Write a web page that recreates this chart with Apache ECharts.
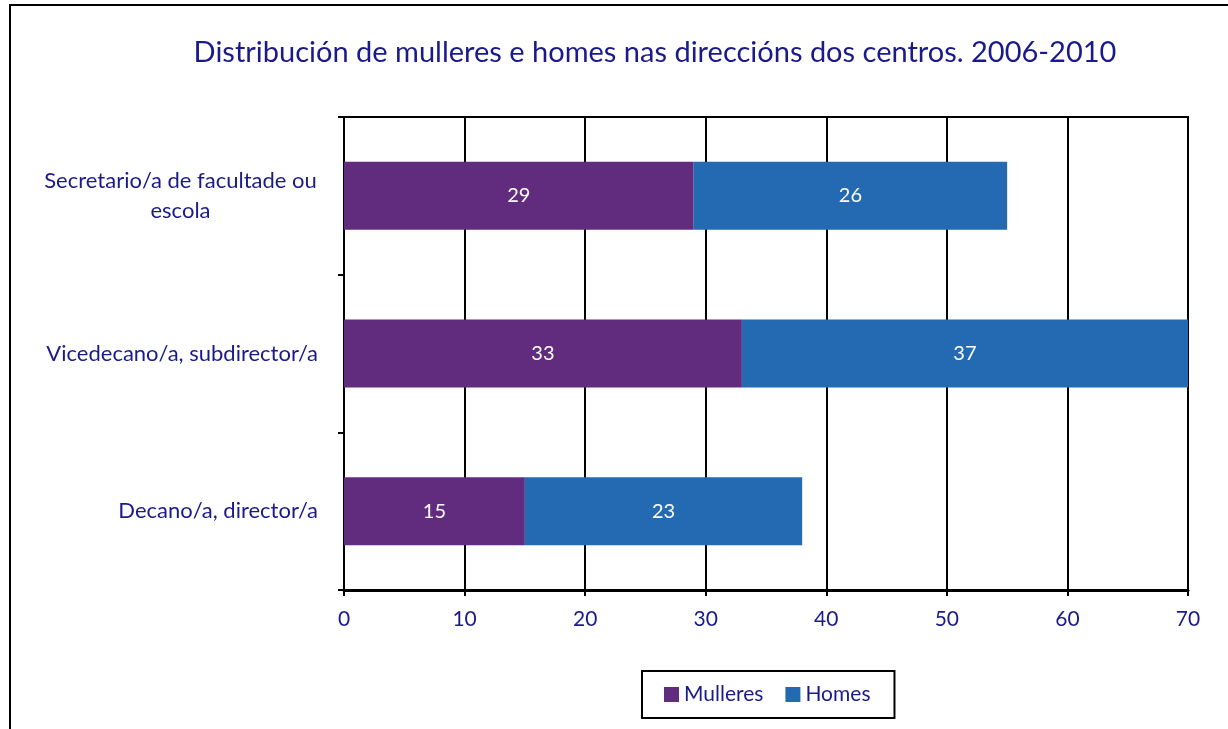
<!DOCTYPE html>
<html>
<head>
<meta charset="utf-8">
<script src="https://cdn.jsdelivr.net/npm/echarts@6/dist/echarts.min.js"></script>
<style>
  html, body { margin: 0; padding: 0; background: #fff; }
  #chart { width: 1228px; height: 729px; }
</style>
</head>
<body>
<div id="chart"></div>
<script>
var categories = ['Decano/a, director/a', 'Vicedecano/a, subdirector/a', 'Secretario/a de facultade ou escola'];
var mulleres = [15, 33, 29];
var homes = [23, 37, 26];
var xTicks = [0, 70, 10];

var navy = '#1a1a8a';
var font = 'Lato';

var chart = echarts.init(document.getElementById('chart'));
chart.setOption({
    textStyle: { fontFamily: font },
    graphic: [
        {
            type: 'rect',
            shape: { x: 10, y: 5, width: 1230, height: 740 },
            style: { fill: 'none', stroke: '#000', lineWidth: 2 }
        }
    ],
    title: {
        text: 'Distribución de mulleres e homes nas direccións dos centros. 2006-2010',
        left: 650,
        textAlign: 'center',
        top: 33,
        textStyle: { color: navy, fontSize: 29, fontWeight: 'normal', fontFamily: font }
    },
    legend: {
        left: 642,
        top: 671,
        padding: [13, 24, 13, 22],
        itemGap: 22,
        itemWidth: 15,
        itemHeight: 15,
        icon: 'rect',
        borderColor: '#000',
        borderWidth: 2,
        textStyle: { color: navy, fontSize: 21, fontFamily: font },
        data: ['Mulleres', 'Homes']
    },
    grid: {
        left: 344,
        right: 40,
        top: 117,
        bottom: 139,
        show: true,
        borderColor: '#000',
        borderWidth: 2,
        containLabel: false
    },
    xAxis: {
        type: 'value',
        min: xTicks[0],
        max: xTicks[1],
        interval: xTicks[2],
        axisLine: { show: true, lineStyle: { color: '#000', width: 3 } },
        axisTick: { show: true, length: 6, lineStyle: { color: '#000', width: 2 } },
        splitLine: { show: true, lineStyle: { color: '#000', width: 2 } },
        axisLabel: { color: navy, fontSize: 21, margin: 19, fontFamily: font }
    },
    yAxis: {
        type: 'category',
        data: categories,
        axisLine: { show: true, lineStyle: { color: '#000', width: 2 } },
        axisTick: { show: true, length: 6, lineStyle: { color: '#000', width: 2 } },
        axisLabel: {
            color: navy,
            fontSize: 22,
            margin: 26,
            fontFamily: font,
            lineHeight: 30,
            formatter: function (v) {
                if (v.indexOf('Secretario') === 0) {
                    return '{c|Secretario/a de facultade ou}\n{c|escola}';
                }
                return v;
            },
            rich: {
                c: { width: 275, align: 'center', color: navy, fontSize: 22, lineHeight: 30, fontFamily: font }
            }
        }
    },
    series: [
        {
            name: 'Mulleres',
            type: 'bar',
            stack: 'total',
            barWidth: 68,
            itemStyle: { color: '#622c7e' },
            label: { show: true, position: 'inside', color: '#fff', fontSize: 20, fontFamily: font },
            data: mulleres
        },
        {
            name: 'Homes',
            type: 'bar',
            stack: 'total',
            barWidth: 68,
            itemStyle: { color: '#236ab2' },
            label: { show: true, position: 'inside', color: '#fff', fontSize: 20, fontFamily: font },
            data: homes
        }
    ]
});

window.addEventListener('resize', function () {
    chart.resize();
});
</script>
</body>
</html>
